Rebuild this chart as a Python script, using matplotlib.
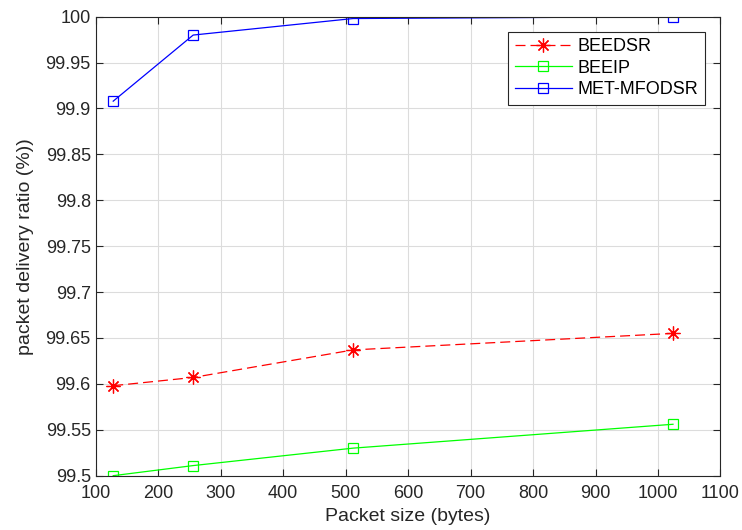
import matplotlib
matplotlib.use("Agg")
import matplotlib.pyplot as plt

plt.rcParams['font.family'] = ['Liberation Sans', 'DejaVu Sans']

# packet sizes (bytes)
packet_size = [128, 256, 512, 1024]

# packet delivery ratio (%) per protocol
beedsr = [99.598, 99.607, 99.637, 99.655]
beeip = [99.500, 99.511, 99.530, 99.556]
met_mfodsr = [99.908, 99.980, 99.998, 100.000]

fig = plt.figure(figsize=(7.42, 5.30), dpi=100)
ax = fig.add_axes([0.129, 0.1025, 0.842, 0.866])

ax.plot(packet_size, beedsr, color='#ff0000', linestyle=(0, (8, 4)), linewidth=0.9,
        marker=(8, 2, 0), markersize=10, markeredgewidth=0.9, label='BEEDSR')
ax.plot(packet_size, beeip, color='#00ff00', linewidth=0.9,
        marker='s', markersize=7, markerfacecolor='none', markeredgewidth=0.9, label='BEEIP')
ax.plot(packet_size, met_mfodsr, color='#0000ff', linewidth=0.9,
        marker='s', markersize=7, markerfacecolor='none', markeredgewidth=0.9, label='MET-MFODSR')

ax.set_xlim(100, 1100)
ax.set_ylim(99.5, 100)
ax.set_xticks(range(100, 1101, 100))
ax.set_yticks([99.5 + 0.05 * i for i in range(11)])
ax.set_yticklabels(['99.5', '99.55', '99.6', '99.65', '99.7', '99.75',
                    '99.8', '99.85', '99.9', '99.95', '100'])

ax.grid(True, color='#dcdcdc', linewidth=0.8)
ax.set_axisbelow(True)
ax.tick_params(direction='in', top=True, right=True, labelsize=13,
               colors='#262626', length=5)
ax.tick_params(axis='x', pad=7)
for s in ax.spines.values():
    s.set_color('#262626')
    s.set_linewidth(0.8)

ax.set_xlabel('Packet size (bytes)', fontsize=14, color='#262626', labelpad=4)
ax.set_ylabel('packet delivery ratio (%))', fontsize=14, color='#262626', labelpad=8)

leg = ax.legend(loc='upper right', bbox_to_anchor=(0.975, 0.967), borderaxespad=0,
                fontsize=13, fancybox=False, framealpha=1, edgecolor='#262626',
                handlelength=3.2, borderpad=0.35, labelspacing=0.25, handletextpad=0.3)
leg.get_frame().set_linewidth(0.8)

fig.savefig('out.png', dpi=100)
